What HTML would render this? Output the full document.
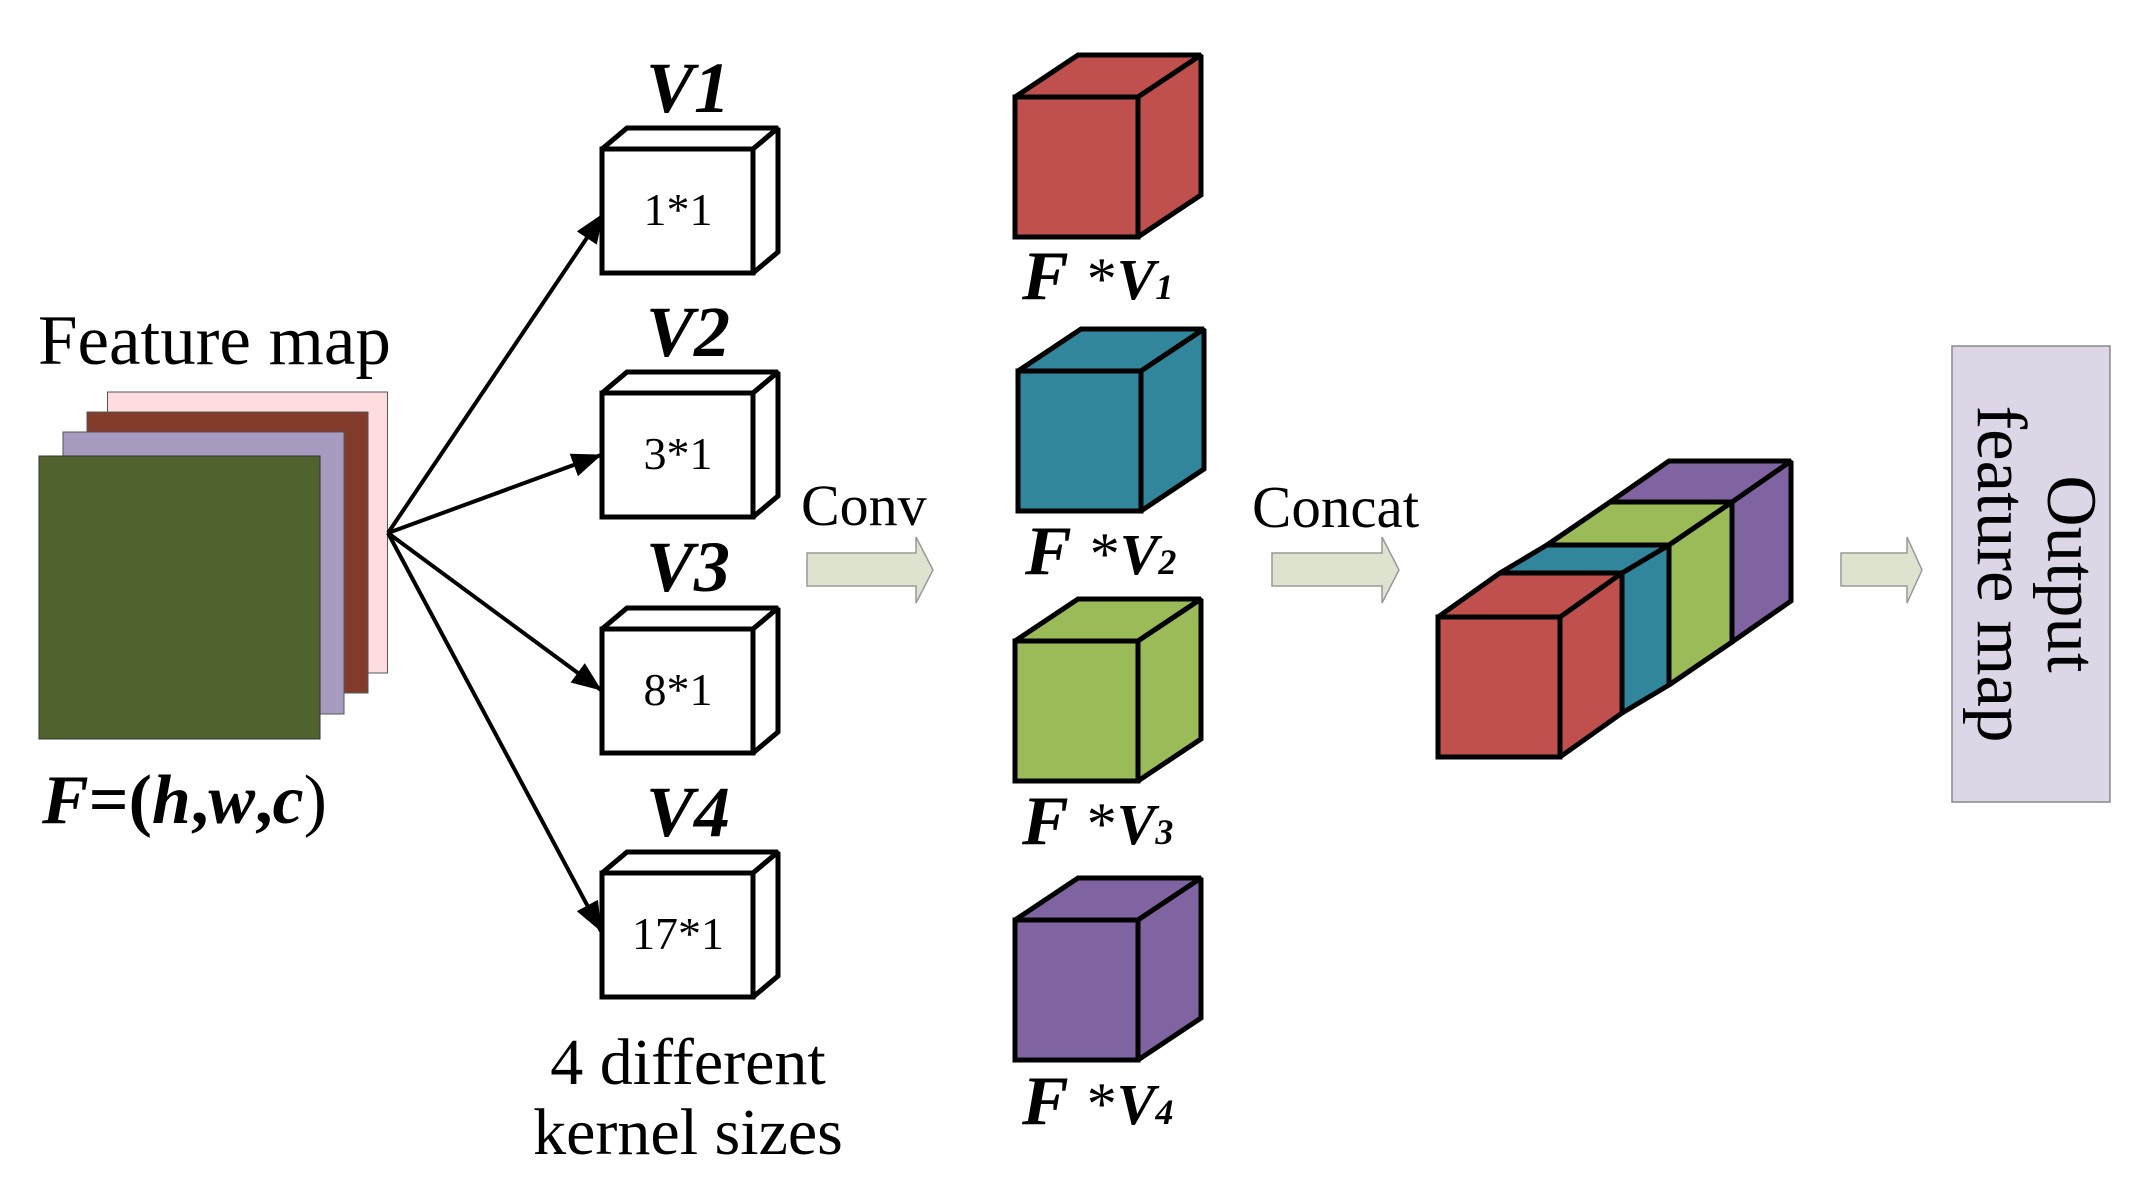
<!DOCTYPE html>
<html><head><meta charset="utf-8"><style>html,body{margin:0;padding:0;background:#fff}svg{display:block}</style></head><body>
<svg width="2151" height="1189" viewBox="0 0 2151 1189" xmlns="http://www.w3.org/2000/svg" font-family="Liberation Serif, serif">
<defs>
<marker id="ah2" viewBox="0 0 30 24" refX="29" refY="12" markerWidth="30" markerHeight="24" orient="auto" markerUnits="userSpaceOnUse"><path d="M0,0 L30,12 L0,24 z" fill="#000"/></marker>
</defs>
<rect x="107.5" y="392" width="280" height="281" fill="#fddde0" stroke="#555" stroke-width="1"/>
<rect x="87" y="412" width="281" height="281" fill="#833c2b" stroke="#555" stroke-width="1"/>
<rect x="63" y="432" width="281" height="282" fill="#a89bc0" stroke="#555" stroke-width="1"/>
<rect x="39" y="456" width="281" height="283" fill="#50622d" stroke="#333" stroke-width="1"/>
<text x="38" y="364" font-size="71">Feature map</text>
<text x="42" y="823" font-size="70" font-weight="bold" font-style="italic">F<tspan font-style="normal">=(</tspan>h<tspan font-style="normal">,</tspan>w<tspan font-style="normal">,</tspan>c<tspan font-style="normal" font-weight="normal">)</tspan></text>
<g stroke="#000" stroke-width="4" fill="none" marker-end="url(#ah2)">
<line x1="388" y1="533" x2="603" y2="214"/>
<line x1="388" y1="533" x2="601" y2="455"/>
<line x1="388" y1="533" x2="601" y2="690"/>
<line x1="388" y1="533" x2="601" y2="931"/>
</g>
<g stroke="#000" stroke-width="5" fill="#fff" stroke-linejoin="miter" stroke-miterlimit="2">
<g><path d="M602,149 L627,128 L778,128 L753,149 Z"/><path d="M753,149 L778,128 L778,252 L753,273 Z"/><rect x="602" y="149" width="151" height="124"/></g>
<g transform="translate(0,244)"><path d="M602,149 L627,128 L778,128 L753,149 Z"/><path d="M753,149 L778,128 L778,252 L753,273 Z"/><rect x="602" y="149" width="151" height="124"/></g>
<g transform="translate(0,480)"><path d="M602,149 L627,128 L778,128 L753,149 Z"/><path d="M753,149 L778,128 L778,252 L753,273 Z"/><rect x="602" y="149" width="151" height="124"/></g>
<g transform="translate(0,724)"><path d="M602,149 L627,128 L778,128 L753,149 Z"/><path d="M753,149 L778,128 L778,252 L753,273 Z"/><rect x="602" y="149" width="151" height="124"/></g>
</g>
<g font-size="46" text-anchor="middle">
<text x="678" y="225">1*1</text>
<text x="678" y="469">3*1</text>
<text x="678" y="705">8*1</text>
<text x="678" y="949">17*1</text>
</g>
<g font-size="72" font-weight="bold" font-style="italic" text-anchor="middle">
<text x="688" y="112">V1</text>
<text x="688" y="356">V2</text>
<text x="688" y="591">V3</text>
<text x="688" y="836">V4</text>
</g>
<g font-size="66" text-anchor="middle">
<text x="688" y="1084">4 different</text>
<text x="688" y="1154">kernel sizes</text>
</g>
<g fill="#dee3cf" stroke="#999" stroke-width="1.5">
<path d="M807,553 L916,553 L916,537 L933,570 L916,603 L916,586 L807,586 Z"/>
<path d="M1272,553 L1382,553 L1382,537 L1399,570 L1382,603 L1382,586 L1272,586 Z"/>
<path d="M1841,553 L1907,553 L1907,537 L1922,570 L1907,603 L1907,586 L1841,586 Z"/>
</g>
<text x="801" y="525" font-size="58">Conv</text>
<text x="1252" y="527" font-size="59">Concat</text>
<g stroke="#000" stroke-width="5" stroke-linejoin="miter" stroke-miterlimit="2">
<g fill="#c0504d"><path d="M1015,97 L1078,55 L1201,55 L1138,97 Z"/><path d="M1138,97 L1201,55 L1201,195 L1138,237 Z"/><rect x="1015" y="97" width="123" height="140"/></g>
<g fill="#31869b" transform="translate(3,274)"><path d="M1015,97 L1078,55 L1201,55 L1138,97 Z"/><path d="M1138,97 L1201,55 L1201,195 L1138,237 Z"/><rect x="1015" y="97" width="123" height="140"/></g>
<g fill="#9bbb59" transform="translate(0,544)"><path d="M1015,97 L1078,55 L1201,55 L1138,97 Z"/><path d="M1138,97 L1201,55 L1201,195 L1138,237 Z"/><rect x="1015" y="97" width="123" height="140"/></g>
<g fill="#8064a2" transform="translate(0,823)"><path d="M1015,97 L1078,55 L1201,55 L1138,97 Z"/><path d="M1138,97 L1201,55 L1201,195 L1138,237 Z"/><rect x="1015" y="97" width="123" height="140"/></g>
</g>
<g font-weight="bold" font-style="italic">
<text x="1022" y="299" font-size="70">F<tspan font-style="normal" font-weight="normal" dx="18" font-size="60">*</tspan><tspan font-size="58">V</tspan><tspan font-size="36">1</tspan></text>
<text x="1025" y="574" font-size="70">F<tspan font-style="normal" font-weight="normal" dx="18" font-size="60">*</tspan><tspan font-size="58">V</tspan><tspan font-size="36">2</tspan></text>
<text x="1022" y="844" font-size="70">F<tspan font-style="normal" font-weight="normal" dx="18" font-size="60">*</tspan><tspan font-size="58">V</tspan><tspan font-size="36">3</tspan></text>
<text x="1022" y="1124" font-size="70">F<tspan font-style="normal" font-weight="normal" dx="18" font-size="60">*</tspan><tspan font-size="58">V</tspan><tspan font-size="36">4</tspan></text>
</g>
<g stroke="#000" stroke-width="5" stroke-linejoin="miter" stroke-miterlimit="2">
<path d="M1732,502 L1791,461 L1791,601 L1732,642 Z" fill="#8064a2"/>
<path d="M1610,502 L1669,461 L1791,461 L1732,502 Z" fill="#8064a2"/>
<path d="M1669,545 L1732,502 L1732,642 L1669,685 Z" fill="#9bbb59"/>
<path d="M1547,545 L1610,502 L1732,502 L1669,545 Z" fill="#9bbb59"/>
<path d="M1622,573 L1669,545 L1669,685 L1622,713 Z" fill="#31869b"/>
<path d="M1500,573 L1547,545 L1669,545 L1622,573 Z" fill="#31869b"/>
<path d="M1560,617 L1622,573 L1622,713 L1560,757 Z" fill="#c0504d"/>
<path d="M1438,617 L1500,573 L1622,573 L1560,617 Z" fill="#c0504d"/>
<rect x="1438" y="617" width="122" height="140" fill="#c0504d"/>
</g>
<rect x="1952" y="346" width="158" height="456" fill="#dcd6e6" stroke="#888" stroke-width="1.5"/>
<g font-size="71" text-anchor="middle">
<text transform="translate(2072,574) rotate(90)" y="24">Output</text>
<text transform="translate(2002,574) rotate(90)" y="24">feature map</text>
</g>
</svg>
</body></html>
